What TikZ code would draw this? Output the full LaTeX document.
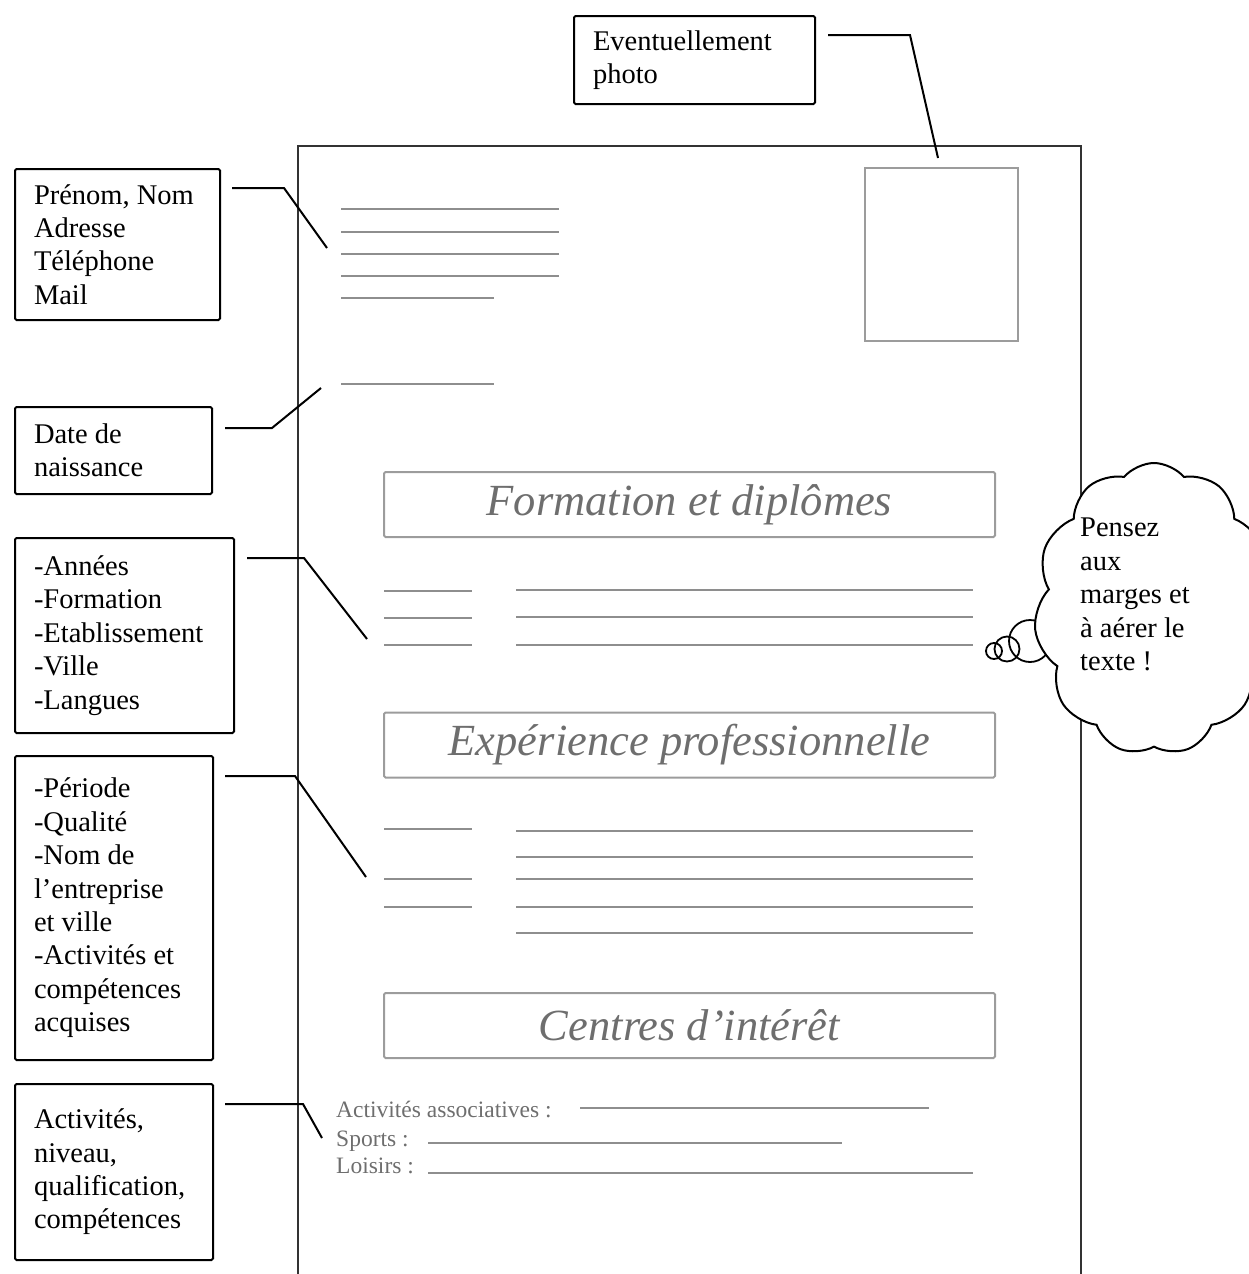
\documentclass[tikz,border=0pt]{standalone}
\usepackage{fontspec}
\setmainfont{Liberation Serif}
\usetikzlibrary{shapes.symbols}
\definecolor{lgray}{HTML}{8E8E8E}
\definecolor{hgray}{HTML}{6E6E6E}
\definecolor{fgray}{HTML}{9C9C9C}
\definecolor{pframe}{HTML}{333333}
\begin{document}
\begin{tikzpicture}[x=1pt,y=-1pt,
  lbl/.style={draw=black, line width=2pt, rounded corners=1.5pt, align=flush left,
    anchor=north west, inner xsep=19pt, inner ysep=0pt,
    font=\fontsize{28.5}{33.4}\selectfont},
  hbox/.style={draw=fgray, line width=2pt, rounded corners=1.5pt,
    minimum width=611pt, minimum height=65pt, text=hgray,
    font=\fontsize{44.5}{50}\selectfont\itshape},
  gline/.style={draw=lgray, line width=2.2pt},
  conn/.style={draw=black, line width=2pt},
  btext/.style={text=hgray, inner sep=0pt, anchor=base west,
    font=\fontsize{23.5}{28}\selectfont},
  bubble/.style={draw=black, line width=1.8pt, circle, inner sep=0pt}]
\useasboundingbox (0,0) rectangle (1249,1274);

% page frame
\draw[draw=pframe, line width=2.5pt] (298,1290) -- (298,146) -- (1081,146) -- (1081,1290);

% photo placeholder
\node[draw=fgray, line width=2pt, minimum width=153pt, minimum height=173pt,
  anchor=north west, inner sep=0pt] (photo) at (864,167) {};

% header lines
\draw[gline] (341,209) -- (559,209);
\draw[gline] (341,232) -- (559,232);
\draw[gline] (341,254) -- (559,254);
\draw[gline] (341,276) -- (559,276);
\draw[gline] (341,298) -- (494,298);
\draw[gline] (341,384) -- (494,384);

% section headings
\node[hbox] (formation) at (689.5,504.5) {Formation et diplômes};
\node[hbox] (experience) at (689.5,745) {Expérience professionnelle};
\node[hbox] (centres) at (689.5,1025.5) {Centres d’intérêt};

% formation lines
\foreach \yy in {591,618,645} \draw[gline] (384,\yy) -- (472,\yy);
\foreach \yy in {590,617,645} \draw[gline] (516,\yy) -- (973,\yy);

% experience lines
\foreach \yy in {829,879,907} \draw[gline] (384,\yy) -- (472,\yy);
\foreach \yy in {831,857,879,907,933} \draw[gline] (516,\yy) -- (973,\yy);

% centres d'interet
\node[btext] (ta) at (336,1117) {Activités associatives :};
\node[btext] (ts) at (336,1146) {Sports :};
\node[btext] (tl) at (336,1173) {Loisirs :};
\draw[gline] (580,1108) -- (929,1108);
\draw[gline] (428,1143) -- (842,1143);
\draw[gline] (428,1173) -- (973,1173);

% label boxes
\node[lbl, text width=203pt, minimum height=88pt] (eventu) at (573,15)
  {Eventuellement\\photo};
\node[lbl, text width=167pt, minimum height=151pt] (nom) at (14,168)
  {Prénom, Nom\\Adresse\\Téléphone\\Mail};
\node[lbl, text width=159pt, minimum height=87pt] (date) at (14,406)
  {Date de\\naissance};
\node[lbl, text width=181pt, minimum height=195pt] (annees) at (14,537)
  {-Années\\-Formation\\-Etablissement\\-Ville\\-Langues};
\node[lbl, text width=160pt, minimum height=304pt] (periode) at (14,755)
  {-Période\\-Qualité\\-Nom de\\l’entreprise\\et ville\\-Activités et\\compétences\\acquises};
\node[lbl, text width=160pt, minimum height=176pt] (activ) at (14,1083)
  {Activités,\\niveau,\\qualification,\\compétences};

% connectors
\coordinate (c0s) at (828,35);  \coordinate (c0b) at (910,35);  \coordinate (c0e) at (938,158);
\coordinate (c1s) at (232,188); \coordinate (c1b) at (284,188); \coordinate (c1e) at (327,248);
\coordinate (c2s) at (225,428); \coordinate (c2b) at (272,428); \coordinate (c2e) at (321,388);
\coordinate (c3s) at (247,558); \coordinate (c3b) at (304,558); \coordinate (c3e) at (367,639);
\coordinate (c4s) at (225,776); \coordinate (c4b) at (295,776); \coordinate (c4e) at (366,877);
\coordinate (c5s) at (225,1104); \coordinate (c5b) at (303,1104); \coordinate (c5e) at (322,1138);
\draw[conn] (c0s) -- (c0b) -- (c0e);
\draw[conn] (c1s) -- (c1b) -- (c1e);
\draw[conn] (c2s) -- (c2b) -- (c2e);
\draw[conn] (c3s) -- (c3b) -- (c3e);
\draw[conn] (c4s) -- (c4b) -- (c4e);
\draw[conn] (c5s) -- (c5b) -- (c5e);

% thought bubble
\node[bubble, minimum size=16pt] (b1) at (994,651) {};
\node[bubble, minimum size=25pt] (b2) at (1007,649) {};
\node[bubble, minimum size=42pt] (b3) at (1030,641) {};
\node[cloud, cloud puffs=11, cloud puff arc=100, cloud ignores aspect, draw=black, fill=white,
  line width=2pt, minimum width=240pt, minimum height=292pt, inner sep=0pt]
  (cloud) at (1154,609) {};
\node[anchor=north west, align=flush left, inner sep=0pt,
  font=\fontsize{28.5}{33.4}\selectfont] (cloudtxt) at (1080,518)
  {Pensez\\aux\\marges et\\à aérer le\\texte !};
\end{tikzpicture}
\end{document}
